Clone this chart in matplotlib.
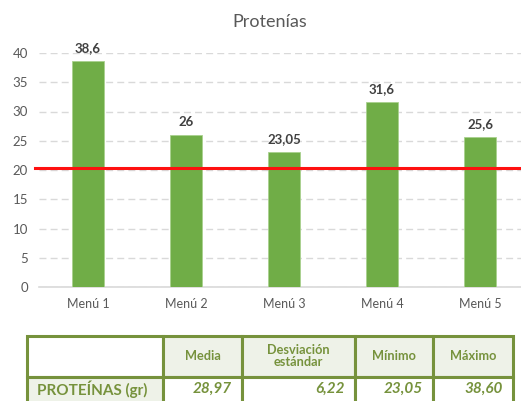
import matplotlib.pyplot as plt
from matplotlib.patches import Rectangle

# Chart data
menus = ['Menú 1', 'Menú 2', 'Menú 3', 'Menú 4', 'Menú 5']
proteinas = [38.6, 26, 23.05, 31.6, 25.6]
bar_labels = ['38,6', '26', '23,05', '31,6', '25,6']
referencia = 20.4

# Summary table
table_headers = ['', 'Media', 'Desviación\nestándar', 'Mínimo', 'Máximo']
table_row_label = 'PROTEÍNAS (gr)'
table_values = ['28,97', '6,22', '23,05', '38,60']

plt.rcParams['font.family'] = ['Lato', 'DejaVu Sans']

W, H = 521, 401
fig = plt.figure(figsize=(W / 100, H / 100), dpi=100)
fig.patch.set_facecolor('white')

# Axes in pixel terms: x from 39 to 529, y from 53 (40) to 287 (0)
ax = fig.add_axes([39 / W, (H - 287) / H, 490 / W, 234 / H])
x = list(range(len(menus)))
ax.bar(x, proteinas, width=0.32, color='#70AD47', edgecolor='#A9D18E', linewidth=0.6, zorder=3)
for xi, v, lab in zip(x, proteinas, bar_labels):
    ax.text(xi, v + 1.2, lab, ha='center', va='bottom', fontsize=9.5,
            fontweight='bold', color='#404040')

ax.set_xlim(-0.5, 4.5)
ax.set_ylim(0, 40)
ax.set_yticks(range(0, 41, 5))
ax.set_xticks(x)
ax.set_xticklabels(menus)
ax.tick_params(axis='both', length=0, colors='#595959', labelsize=9.5)
ax.tick_params(axis='x', pad=8, labelsize=9)
ax.tick_params(axis='y', pad=8)
ax.grid(axis='y', color='#D9D9D9', linestyle=(0, (5, 3)), linewidth=1, zorder=0)
for s in ['top', 'right', 'left']:
    ax.spines[s].set_visible(False)
ax.spines['bottom'].set_color('#D9D9D9')
ax.spines['bottom'].set_linewidth(1.2)

# Red reference line
ax.axhline(referencia, xmin=-0.008, xmax=1, color='#FF1010', linewidth=2.2, zorder=4, clip_on=False)

fig.text(270 / W, 1 - 22 / H, 'Protenías', ha='center', va='center', fontsize=13, color='#595959')

# Table drawn in pixel coordinates
tax = fig.add_axes([0, 0, 1, 1])
tax.set_xlim(0, W)
tax.set_ylim(H, 0)
tax.axis('off')

col_edges = [27, 163, 242, 355, 433, 513]
row_edges = [336, 377, 420]
green = '#76923C'
light = '#EEF2E8'

for r in range(2):
    for c in range(5):
        x0, x1 = col_edges[c], col_edges[c + 1]
        y0, y1 = row_edges[r], row_edges[r + 1]
        fc = 'white'
        if r == 0 and c > 0:
            fc = light
        if r == 1 and c == 0:
            fc = light
        tax.add_patch(Rectangle((x0, y0), x1 - x0, y1 - y0, facecolor=fc,
                                edgecolor=green, linewidth=2.2, clip_on=False))

for c in range(1, 5):
    cx = (col_edges[c] + col_edges[c + 1]) / 2
    tax.text(cx, (row_edges[0] + row_edges[1]) / 2, table_headers[c], ha='center', va='center',
             fontsize=9.2, fontweight='bold', color=green, linespacing=1.0)

tax.text(col_edges[0] + 10, 389, table_row_label, ha='left', va='center',
         fontsize=11, fontweight='bold', color=green)
for c, v in enumerate(table_values, start=1):
    tax.text(col_edges[c + 1] - 10, 389, v, ha='right', va='center',
             fontsize=11, fontweight='bold', style='italic', color=green)

plt.savefig('out.png', dpi=100)
